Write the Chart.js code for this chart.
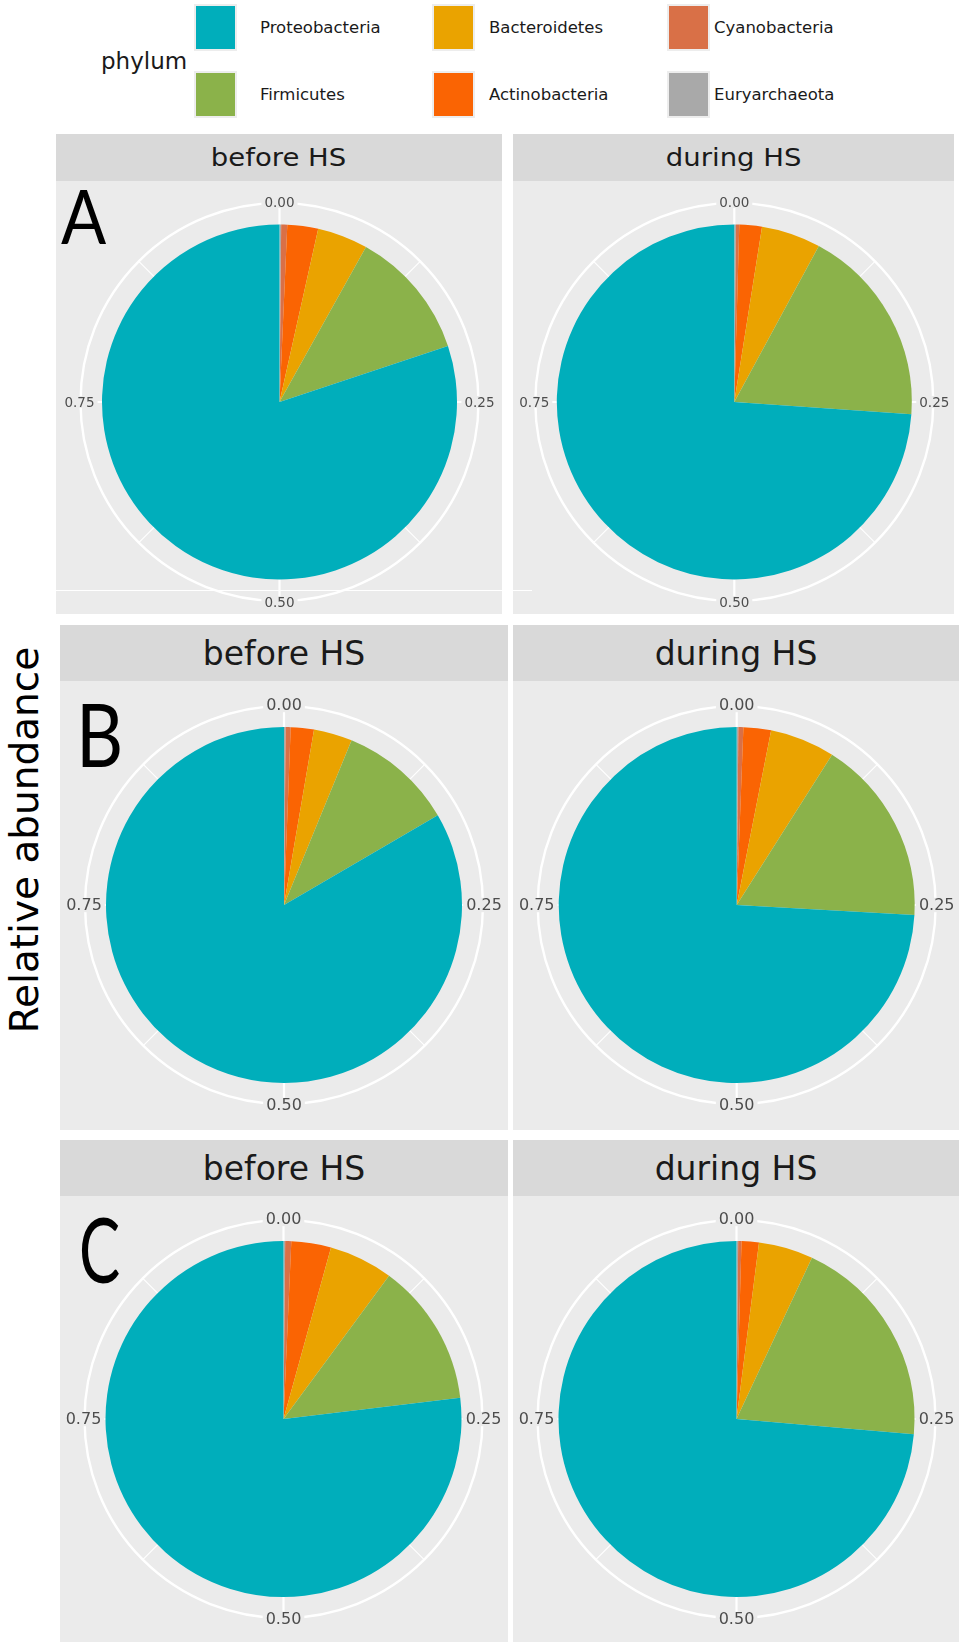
<!DOCTYPE html>
<html>
<head>
<meta charset="utf-8">
<script src="https://cdn.jsdelivr.net/npm/chart.js@4.4.1/dist/chart.umd.min.js"></script>
<style>
  body { margin: 0; background: #fff; font-family: "DejaVu Sans", sans-serif; }
  #fig { position: relative; width: 959px; height: 1642px; overflow: hidden; background: #fff; }
  .panel { position: absolute; background: #EBEBEB; }
  .strip { position: absolute; background: #D9D9D9; color: #1A1A1A; display: flex; align-items: center; justify-content: center; white-space: nowrap; }
  .strip span { display: inline-block; }
  .letter { position: absolute; color: #000; line-height: 1; white-space: nowrap; transform-origin: left top; font-family: Lato, "DejaVu Sans", sans-serif; }
  .key { position: absolute; box-sizing: border-box; border: 2px solid #EDEDED; }
  .klab { position: absolute; font-size: 16.5px; color: #1A1A1A; line-height: 1; white-space: nowrap; }
  canvas { position: absolute; }
</style>
</head>
<body>
<div id="fig"></div>
<script>
// phyla in legend order, with the ggplot fill colours
const phyla = ["Proteobacteria", "Firmicutes", "Bacteroidetes", "Actinobacteria", "Cyanobacteria", "Euryarchaeota"];
const phylumColors = ["#00AEBB", "#8BB24A", "#EAA300", "#FA6403", "#D97047", "#A9A9A9"];
const facets = ["before HS", "during HS"];

// theta axis breaks
const tickValues = [0, 0.25, 0.5, 0.75];
const tickLabels = ["0.00", "0.25", "0.50", "0.75"];
const minorValues = [0.125, 0.375, 0.625, 0.875];

// relative abundance per panel (same order as phyla)
const abundanceA_before = [0.801, 0.118, 0.046, 0.028, 0.0055, 0.0015];
const abundanceA_during = [0.739, 0.182, 0.054, 0.0205, 0.003, 0.0015];
const abundanceB_before = [0.834, 0.104, 0.035, 0.021, 0.0045, 0.0015];
const abundanceB_during = [0.741, 0.169, 0.059, 0.025, 0.0045, 0.0015];
const abundanceC_before = [0.769, 0.130, 0.058, 0.036, 0.0055, 0.0015];
const abundanceC_during = [0.7363, 0.194, 0.0495, 0.0157, 0.003, 0.0015];

// layout of the three rows (pixels)
const rows = [
  { letter: "A", letterX: 61, letterTop: 176.5, letterSize: 76, letterScale: 0.88,
    strip: [134, 181], bg: [181, 614], stripFont: 25, stripScale: 1.1, tickFont: 13.5,
    cy: 402, pieR: 177.5, ringR: 199,
    cols: [{ x: [56, 502], cx: 279.5 }, { x: [513, 954], cx: 734.3 }],
    data: [abundanceA_before, abundanceA_during] },
  { letter: "B", letterX: 76, letterTop: 689, letterSize: 88, letterScale: 0.83,
    strip: [625, 681], bg: [681, 1130], stripFont: 33, stripScale: 1.0, tickFont: 16,
    cy: 905, pieR: 178, ringR: 199,
    cols: [{ x: [60, 508], cx: 284 }, { x: [513, 959], cx: 736.7 }],
    data: [abundanceB_before, abundanceB_during] },
  { letter: "C", letterX: 78.5, letterTop: 1202, letterSize: 92, letterScale: 0.67,
    strip: [1140, 1196], bg: [1196, 1642], stripFont: 33, stripScale: 1.0, tickFont: 16,
    cy: 1419, pieR: 178, ringR: 199,
    cols: [{ x: [60, 508], cx: 283.5 }, { x: [513, 959], cx: 736.5 }],
    data: [abundanceC_before, abundanceC_during] }
];

const fig = document.getElementById("fig");

function el(cls, css, html) {
  const d = document.createElement("div");
  if (cls) d.className = cls;
  Object.assign(d.style, css);
  if (html !== undefined) d.innerHTML = html;
  fig.appendChild(d);
  return d;
}

// legend
el("klab", { left: "101px", top: "50px", fontSize: "23px" }, "phylum");
const keyCols = [194, 432, 667];
const keyRows = [4, 71];
const labCols = [260, 489, 714];
phyla.forEach((p, i) => {
  const c = Math.floor(i / 2), r = i % 2;
  el("key", { left: keyCols[c] + "px", top: keyRows[r] + "px", width: "43px", height: "47px", background: phylumColors[i] });
  el("klab", { left: labCols[c] + "px", top: (keyRows[r] + 16) + "px" }, p);
});

// y axis title
el("", { position: "absolute", left: (25 - 250) + "px", top: (840 - 22) + "px", width: "500px", height: "44px",
  lineHeight: "44px", textAlign: "center", fontSize: "39px", color: "#000", transform: "rotate(-90deg)" }, "Relative abundance");

const polarGrid = {
  id: "polarGrid",
  beforeDatasetsDraw(chart, args, opts) {
    const arc = chart.getDatasetMeta(0).data[0];
    if (!arc) return;
    const ctx = chart.ctx;
    const { x, y } = arc;
    ctx.save();
    ctx.strokeStyle = "#FFFFFF";
    ctx.lineWidth = 2.4;
    ctx.beginPath();
    ctx.arc(x, y, opts.ringR, 0, Math.PI * 2);
    ctx.stroke();
    const spoke = (v, w) => {
      const a = -Math.PI / 2 + v * Math.PI * 2;
      ctx.lineWidth = w;
      ctx.beginPath();
      ctx.moveTo(x, y);
      ctx.lineTo(x + opts.ringR * Math.cos(a), y + opts.ringR * Math.sin(a));
      ctx.stroke();
    };
    tickValues.forEach(v => spoke(v, 2.2));
    minorValues.forEach(v => spoke(v, 1.1));
    ctx.restore();
  },
  afterDatasetsDraw(chart, args, opts) {
    const arc = chart.getDatasetMeta(0).data[0];
    if (!arc) return;
    const ctx = chart.ctx;
    const { x, y } = arc;
    ctx.save();
    ctx.font = opts.tickFont + 'px "DejaVu Sans"';
    ctx.textAlign = "center";
    ctx.textBaseline = "middle";
    tickValues.forEach((v, i) => {
      const a = -Math.PI / 2 + v * Math.PI * 2;
      const tx = x + (opts.ringR + 1) * Math.cos(a);
      const ty = y + (opts.ringR + 1) * Math.sin(a);
      const w = ctx.measureText(tickLabels[i]).width;
      ctx.fillStyle = "#EBEBEB";
      ctx.fillRect(tx - w / 2 - 3, ty - opts.tickFont * 0.45, w + 6, opts.tickFont * 0.9);
      ctx.fillStyle = "#4D4D4D";
      ctx.fillText(tickLabels[i], tx, ty + 1);
    });
    ctx.restore();
  }
};

rows.forEach(row => {
  row.cols.forEach((col, ci) => {
    const W = col.x[1] - col.x[0];
    const H = row.bg[1] - row.bg[0];
    // strip
    const s = el("strip", { left: col.x[0] + "px", top: row.strip[0] + "px", width: W + "px",
      height: (row.strip[1] - row.strip[0]) + "px", fontSize: row.stripFont + "px" });
    s.innerHTML = '<span style="transform:scaleX(' + row.stripScale + ')">' + facets[ci] + '</span>';
    // panel background
    el("panel", { left: col.x[0] + "px", top: row.bg[0] + "px", width: W + "px", height: H + "px" });

    const cnv = document.createElement("canvas");
    cnv.width = W; cnv.height = H;
    cnv.style.left = col.x[0] + "px";
    cnv.style.top = row.bg[0] + "px";
    fig.appendChild(cnv);

    // center the pie on (cx, cy) via layout padding
    const cx = col.cx - col.x[0], cy = row.cy - row.bg[0];
    const hw = Math.min(cx, W - cx), hh = Math.min(cy, H - cy);
    const vals = row.data[ci].slice().reverse();
    const cols = phylumColors.slice().reverse();

    new Chart(cnv.getContext("2d"), {
      type: "pie",
      data: {
        labels: phyla.slice().reverse(),
        datasets: [{ data: vals, backgroundColor: cols, borderWidth: 0 }]
      },
      options: {
        responsive: false,
        animation: false,
        events: [],
        radius: row.pieR,
        layout: { padding: { left: cx - hw, right: W - cx - hw, top: cy - hh, bottom: H - cy - hh } },
        plugins: {
          legend: { display: false },
          tooltip: { enabled: false },
          polarGrid: { ringR: row.ringR, tickFont: row.tickFont }
        }
      },
      plugins: [polarGrid]
    });
  });
  // panel letter
  el("letter", { left: row.letterX + "px", top: row.letterTop + "px", fontSize: row.letterSize + "px",
    transform: "scaleX(" + row.letterScale + ")" }, row.letter);
});

// stray white rule across the bottom of row A
el("", { position: "absolute", left: "56px", top: "589.5px", width: "446px", height: "1.6px", background: "#fff" });
el("", { position: "absolute", left: "513px", top: "589.5px", width: "19px", height: "1.6px", background: "#fff" });
</script>
</body>
</html>
